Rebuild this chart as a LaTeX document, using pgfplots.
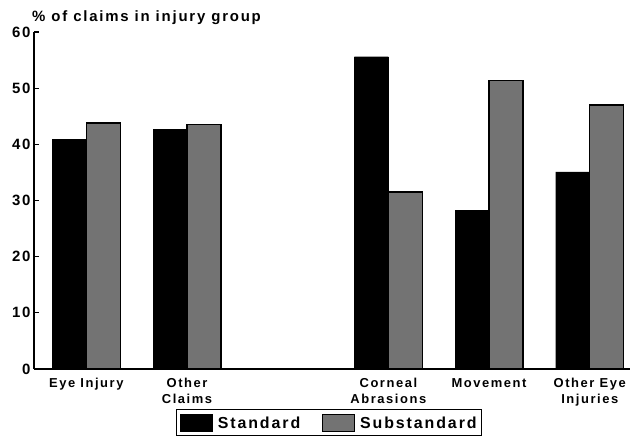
\documentclass[border=0pt]{standalone}
\usepackage{fontspec}
\setmainfont{Liberation Sans}
\newfontfamily\lab[LetterSpace=12]{Liberation Sans}
\usepackage{pgfplots}
\pgfplotsset{compat=1.18}
\begin{document}
\begin{tikzpicture}
\useasboundingbox (0,0) rectangle (632bp,436bp);
\begin{axis}[
  at={(34bp,67bp)}, anchor=south west,
  scale only axis, width=596bp, height=337bp,
  xmin=-0.52, xmax=5.40, ymin=0, ymax=60,
  axis x line=bottom, axis y line=left,
  axis line style={-, line width=1.4bp, black},
  ytick={0,10,20,30,40,50,60},
  xtick={0,1,3,4,5},
  xticklabels={Eye Injury, Other\\Claims, Corneal\\Abrasions, Movement, Other Eye\\Injuries},
  /pgf/number format/assume math mode=true,
  x tick style={draw=none},
  y tick style={line width=1.2bp, black},
  major tick length=5bp, tick align=inside,
  yticklabel style={font=\lab\bfseries\fontsize{15}{16}\selectfont, xshift=0bp},
  xticklabel style={align=center, anchor=north, yshift=-1bp, font=\lab\bfseries\fontsize{13}{16}\selectfont},
  ybar=0pt, bar width=34bp,
  legend columns=2,
  legend style={at={(0.238,-0.119)}, anchor=north west, draw=black, line width=1.3bp,
    font=\lab\bfseries\fontsize{16}{18}\selectfont, inner xsep=3bp, inner ysep=4bp},
  legend cell align=left,
  /tikz/every odd column/.append style={column sep=3bp},
  /tikz/every even column/.append style={column sep=20bp},
]
\addplot[fill=black, draw=black, bar shift=-17bp,
  legend image code/.code={\fill[black] (0bp,-8bp) rectangle (32bp,9bp);}]
  coordinates {(0,40.9) (1,42.7) (3,55.6) (4,28.3) (5,35.1)};
\addlegendentry{Standard}
\addplot[fill=black!55, draw=black, line width=1.2bp, bar shift=17bp,
  legend image code/.code={\filldraw[fill=black!55, draw=black, line width=0.8bp] (0bp,-8bp) rectangle (32bp,9bp);}]
  coordinates {(0,43.8) (1,43.6) (3,31.5) (4,51.3) (5,47.0)};
\addlegendentry{Substandard}
\end{axis}
\node[anchor=west, font=\lab\bfseries\fontsize{15}{16}\selectfont, inner sep=0pt] at (32bp,418bp) {\% of claims in injury group};
\end{tikzpicture}
\end{document}
